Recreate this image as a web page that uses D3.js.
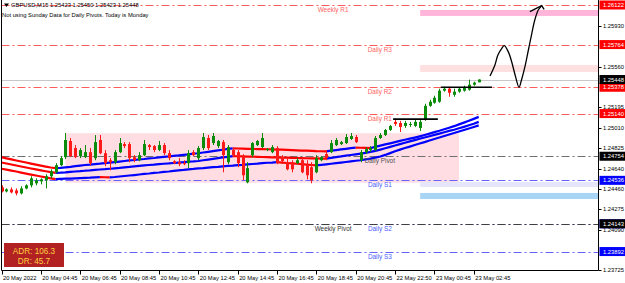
<!DOCTYPE html>
<html>
<head>
<meta charset="utf-8">
<script src="https://cdn.jsdelivr.net/npm/d3@7"></script>
<style>
  body { margin: 0; background: #fff; }
  svg { display: block; }
  text { font-family: "Liberation Sans", Arial, sans-serif; }
</style>
</head>
<body>
<svg id="chart" width="625" height="283"></svg>
<script>
// GBPUSD M15 candles, bar 0 = 20 May 02:45
const openP = [
  1.24472, 1.24436, 1.24454, 1.24445, 1.24418, 1.24463, 1.24491, 1.24509, 1.24527, 1.24536,
  1.24573, 1.24609, 1.24673, 1.24746, 1.24892, 1.24828, 1.24755, 1.24746, 1.24791, 1.24737,
  1.24901, 1.24782, 1.24718, 1.24700, 1.24791, 1.24864, 1.24864, 1.24746, 1.24718, 1.24764,
  1.24855, 1.24846, 1.24810, 1.24855, 1.24782, 1.24709, 1.24700, 1.24691, 1.24691, 1.24791,
  1.24737, 1.24828, 1.24919, 1.24873, 1.24846, 1.24882, 1.24700, 1.24810, 1.24791, 1.24746,
  1.24518, 1.24764, 1.24855, 1.24837, 1.24810, 1.24791, 1.24828, 1.24746, 1.24700, 1.24700,
  1.24691, 1.24718, 1.24673, 1.24655, 1.24609, 1.24718, 1.24773, 1.24791, 1.24855, 1.24864,
  1.24873, 1.24910, 1.24928, 1.24718, 1.24791, 1.24810, 1.24810, 1.24919, 1.24946, 1.24992,
  1.25065, 1.25055, 1.25028, 1.25037, 1.25028, 1.25010, 1.25083, 1.25210, 1.25238, 1.25247,
  1.25347, 1.25365, 1.25310, 1.25338, 1.25347, 1.25356, 1.25401, 1.25423
];
const highP = [
  1.24491, 1.24463, 1.24472, 1.24463, 1.24482, 1.24500, 1.24573, 1.24554, 1.24554, 1.24591,
  1.24636, 1.24691, 1.24755, 1.24964, 1.24919, 1.24855, 1.24828, 1.24855, 1.24828, 1.24946,
  1.24946, 1.24810, 1.24737, 1.24810, 1.24919, 1.24882, 1.24882, 1.24764, 1.24791, 1.24901,
  1.24864, 1.24855, 1.24892, 1.24873, 1.24810, 1.24718, 1.24737, 1.24718, 1.24810, 1.24810,
  1.24846, 1.24964, 1.24946, 1.24964, 1.24901, 1.24901, 1.24855, 1.24828, 1.24810, 1.24773,
  1.24700, 1.24882, 1.24901, 1.24964, 1.24828, 1.24855, 1.24846, 1.24764, 1.24737, 1.24718,
  1.24737, 1.24737, 1.24718, 1.24700, 1.24764, 1.24755, 1.24810, 1.24901, 1.24919, 1.24892,
  1.24955, 1.24964, 1.24946, 1.24810, 1.24837, 1.24846, 1.24937, 1.24964, 1.25001, 1.25037,
  1.25092, 1.25074, 1.25074, 1.25065, 1.25083, 1.25083, 1.25229, 1.25265, 1.25301, 1.25365,
  1.25383, 1.25383, 1.25365, 1.25374, 1.25392, 1.25447, 1.25429, 1.25450
];
const lowP = [
  1.24427, 1.24427, 1.24418, 1.24400, 1.24409, 1.24454, 1.24472, 1.24491, 1.24500, 1.24463,
  1.24554, 1.24600, 1.24664, 1.24728, 1.24746, 1.24737, 1.24737, 1.24737, 1.24673, 1.24718,
  1.24773, 1.24664, 1.24627, 1.24682, 1.24782, 1.24828, 1.24700, 1.24700, 1.24709, 1.24755,
  1.24810, 1.24791, 1.24800, 1.24764, 1.24718, 1.24682, 1.24664, 1.24673, 1.24646, 1.24755,
  1.24718, 1.24810, 1.24810, 1.24855, 1.24828, 1.24609, 1.24682, 1.24746, 1.24655, 1.24536,
  1.24509, 1.24746, 1.24846, 1.24828, 1.24800, 1.24782, 1.24682, 1.24700, 1.24627, 1.24609,
  1.24682, 1.24600, 1.24545, 1.24509, 1.24600, 1.24709, 1.24718, 1.24782, 1.24846, 1.24855,
  1.24864, 1.24901, 1.24873, 1.24700, 1.24773, 1.24791, 1.24800, 1.24910, 1.24937, 1.24983,
  1.25028, 1.24973, 1.25010, 1.25019, 1.25019, 1.24983, 1.25074, 1.25201, 1.25229, 1.25238,
  1.25338, 1.25292, 1.25292, 1.25328, 1.25338, 1.25347, 1.25392, 1.25423
];
const closeP = [
  1.24436, 1.24454, 1.24427, 1.24418, 1.24463, 1.24491, 1.24554, 1.24536, 1.24545, 1.24573,
  1.24618, 1.24673, 1.24737, 1.24901, 1.24755, 1.24746, 1.24810, 1.24791, 1.24691, 1.24882,
  1.24782, 1.24691, 1.24700, 1.24791, 1.24873, 1.24846, 1.24737, 1.24718, 1.24764, 1.24864,
  1.24837, 1.24810, 1.24855, 1.24782, 1.24737, 1.24691, 1.24682, 1.24682, 1.24782, 1.24764,
  1.24828, 1.24928, 1.24828, 1.24937, 1.24892, 1.24764, 1.24837, 1.24764, 1.24691, 1.24582,
  1.24646, 1.24873, 1.24892, 1.24919, 1.24819, 1.24837, 1.24691, 1.24709, 1.24636, 1.24636,
  1.24718, 1.24609, 1.24582, 1.24536, 1.24737, 1.24746, 1.24737, 1.24873, 1.24901, 1.24882,
  1.24928, 1.24937, 1.24882, 1.24791, 1.24819, 1.24828, 1.24919, 1.24946, 1.24992, 1.25028,
  1.25046, 1.25019, 1.25055, 1.25046, 1.25065, 1.25065, 1.25210, 1.25247, 1.25283, 1.25347,
  1.25365, 1.25328, 1.25338, 1.25365, 1.25374, 1.25401, 1.25420, 1.25448
];

// three-line moving average band
const maUpper = [
  1.24746, 1.24735, 1.24725, 1.24715, 1.24706, 1.24697, 1.24687, 1.24678, 1.24669, 1.24660,
  1.24652, 1.24646, 1.24649, 1.24654, 1.24658, 1.24664, 1.24669, 1.24675, 1.24678, 1.24683,
  1.24687, 1.24692, 1.24697, 1.24701, 1.24706, 1.24711, 1.24716, 1.24720, 1.24725, 1.24729,
  1.24734, 1.24738, 1.24744, 1.24749, 1.24753, 1.24758, 1.24762, 1.24767, 1.24771, 1.24777,
  1.24781, 1.24788, 1.24794, 1.24800, 1.24807, 1.24813, 1.24820, 1.24825, 1.24824, 1.24823,
  1.24821, 1.24820, 1.24819, 1.24818, 1.24817, 1.24816, 1.24814, 1.24813, 1.24811, 1.24809,
  1.24807, 1.24805, 1.24804, 1.24802, 1.24800, 1.24799, 1.24798, 1.24804, 1.24810, 1.24816,
  1.24821, 1.24827, 1.24832, 1.24831, 1.24830, 1.24828, 1.24839, 1.24850, 1.24861, 1.24871,
  1.24882, 1.24893, 1.24903, 1.24913, 1.24923, 1.24934, 1.24946, 1.24959, 1.24972, 1.24984,
  1.24998, 1.25012, 1.25026, 1.25042, 1.25058, 1.25075, 1.25092, 1.25110
];
const maMid = [
  1.24697, 1.24688, 1.24679, 1.24670, 1.24661, 1.24652, 1.24643, 1.24635, 1.24626, 1.24618,
  1.24610, 1.24603, 1.24605, 1.24608, 1.24612, 1.24616, 1.24619, 1.24623, 1.24626, 1.24630,
  1.24634, 1.24637, 1.24641, 1.24645, 1.24648, 1.24653, 1.24657, 1.24662, 1.24667, 1.24671,
  1.24675, 1.24678, 1.24682, 1.24686, 1.24689, 1.24693, 1.24697, 1.24700, 1.24704, 1.24707,
  1.24711, 1.24718, 1.24724, 1.24730, 1.24737, 1.24743, 1.24749, 1.24755, 1.24754, 1.24753,
  1.24751, 1.24750, 1.24749, 1.24747, 1.24746, 1.24744, 1.24743, 1.24742, 1.24741, 1.24740,
  1.24738, 1.24737, 1.24736, 1.24735, 1.24734, 1.24733, 1.24732, 1.24739, 1.24746, 1.24752,
  1.24759, 1.24765, 1.24771, 1.24778, 1.24785, 1.24793, 1.24803, 1.24814, 1.24826, 1.24839,
  1.24851, 1.24864, 1.24876, 1.24888, 1.24900, 1.24912, 1.24923, 1.24935, 1.24947, 1.24959,
  1.24971, 1.24983, 1.24994, 1.25007, 1.25020, 1.25034, 1.25048, 1.25065
];
const maLower = [
  1.24641, 1.24633, 1.24624, 1.24616, 1.24606, 1.24597, 1.24588, 1.24580, 1.24571, 1.24563,
  1.24554, 1.24547, 1.24549, 1.24551, 1.24552, 1.24554, 1.24556, 1.24558, 1.24560, 1.24563,
  1.24565, 1.24564, 1.24563, 1.24566, 1.24571, 1.24575, 1.24580, 1.24584, 1.24589, 1.24594,
  1.24598, 1.24603, 1.24607, 1.24612, 1.24616, 1.24621, 1.24626, 1.24630, 1.24635, 1.24639,
  1.24644, 1.24647, 1.24651, 1.24655, 1.24658, 1.24662, 1.24666, 1.24669, 1.24673, 1.24676,
  1.24680, 1.24684, 1.24687, 1.24691, 1.24695, 1.24697, 1.24700, 1.24696, 1.24693, 1.24689,
  1.24686, 1.24682, 1.24678, 1.24675, 1.24672, 1.24676, 1.24681, 1.24686, 1.24691, 1.24697,
  1.24702, 1.24707, 1.24713, 1.24718, 1.24725, 1.24732, 1.24741, 1.24752, 1.24766, 1.24782,
  1.24799, 1.24814, 1.24828, 1.24841, 1.24855, 1.24869, 1.24882, 1.24896, 1.24910, 1.24923,
  1.24937, 1.24951, 1.24964, 1.24978, 1.24992, 1.25005, 1.25019, 1.25033
];

// time axis: a label every 8 bars
const timeTickBars = [0, 8, 16, 24, 32, 40, 48, 56, 64, 72, 80, 88, 96];
const timeTickLabels = ["20 May 2022", "20 May 04:45", "20 May 06:45", "20 May 08:45", "20 May 10:45",
  "20 May 12:45", "20 May 14:45", "20 May 16:45", "20 May 18:45", "20 May 20:45",
  "22 May 22:50", "23 May 00:45", "23 May 02:45"];

// price axis grid labels (those hidden under coloured tags are left out)
const priceTicks = [1.23725, 1.24090, 1.24275, 1.24460, 1.24640, 1.24825, 1.25010,
  1.25195, 1.25560, 1.25930];

// pivot levels
const levelNames = ["Daily S2", "Weekly R1", "Daily R3", "Daily R2", "Daily R1", "Daily Pivot", "Daily S1", "Weekly Pivot", "Daily S3"];
const levelValues = [1.24143, 1.26122, 1.25764, 1.25378, 1.25140, 1.24754, 1.24536, 1.24143, 1.23892];
const levelKinds = ["support", "resistance", "resistance", "resistance", "resistance", "pivot", "support", "weekly", "support"];

const lastPrice = 1.25448;
const header = "GBPUSD,M15  1.25423 1.25450 1.25423 1.25448";
const subHeader = "Not using Sunday Data for Daily Pivots.  Today is Monday";
const adrText = ["ADR: 106.3", "DR: 45.7"];

// zones drawn on the chart: [from bar, to bar, low, high]
const zoneFrom = [13.0, 85.1, 85.1, 85.1, 85.1];
const zoneTo = [93.0, 125, 125, 125, 125];
const zoneLow = [1.24515, 1.26023, 1.25516, 1.24476, 1.24367];
const zoneHigh = [1.24962, 1.26077, 1.25579, 1.24521, 1.24422];
const zoneColors = ["#ffdde3", "#ffb5da", "#ffe0e0", "#e6e6fa", "#a8d4f5"];

// hand drawn trend lines and arrow
const markFrom = [79.6, 89.3];
const markTo = [88.7, 99.7];
const markPrice = [1.25090, 1.25378];
const arrowBars = [99.3, 100.3, 100.9, 101.7, 102.2, 103.0, 103.7, 104.4, 105.2, 105.7, 106.4, 107.1, 107.8, 108.4, 109.1, 109.8];
const arrowPrices = [1.25480, 1.25579, 1.25670, 1.25730, 1.25754, 1.25700, 1.25609, 1.25489, 1.25378, 1.25444, 1.25564, 1.25715, 1.25866, 1.25986, 1.26077, 1.26116];
const headBars = [107.4, 109.8, 110.3];
const headPrices = [1.26062, 1.26116, 1.26083];

const width = 625, height = 283;
const plot = { left: 1.5, right: 598.5, top: 0, bottom: 270.5 };

const svg = d3.select('#chart');

const x = d3.scaleLinear().domain([0, 97]).range([1.5, 478.7]);
const y = d3.scaleLinear().domain([1.23725, 1.26122]).range([270, 5]);

svg.append('defs').append('clipPath').attr('id', 'plotClip')
  .append('rect')
  .attr('x', plot.left).attr('y', plot.top)
  .attr('width', plot.right - plot.left).attr('height', plot.bottom - plot.top);

const g = svg.append('g').attr('clip-path', 'url(#plotClip)');

// zones
g.append('g').selectAll('rect')
  .data(zoneColors)
  .join('rect')
  .attr('x', (d, i) => x(zoneFrom[i]))
  .attr('width', (d, i) => x(zoneTo[i]) - x(zoneFrom[i]))
  .attr('y', (d, i) => y(zoneHigh[i]))
  .attr('height', (d, i) => y(zoneLow[i]) - y(zoneHigh[i]))
  .attr('fill', d => d);

// pivot levels
const lineColor = { resistance: '#ff5c5c', pivot: '#707070', support: '#6464ff', weekly: '#404040' };
const textColor = { resistance: '#ff6262', pivot: '#505050', support: '#4a5cff', weekly: '#333333' };
const boxColor = { resistance: '#ff0000', pivot: '#000000', support: '#0000ff', weekly: '#000000' };
const crisp = v => Math.round(v) + 0.5;

g.append('g').selectAll('line')
  .data(levelValues)
  .join('line')
  .attr('x1', plot.left).attr('x2', plot.right)
  .attr('y1', d => crisp(y(d))).attr('y2', d => crisp(y(d)))
  .attr('stroke', (d, i) => lineColor[levelKinds[i]])
  .attr('stroke-width', 1)
  .attr('stroke-dasharray', '8,3,2,3');

// bid line
g.append('line')
  .attr('x1', plot.left).attr('x2', plot.right)
  .attr('y1', crisp(y(lastPrice))).attr('y2', crisp(y(lastPrice)))
  .attr('stroke', '#c8c8c8');

// moving average lines, red while falling, blue while rising
const red = '#ff0000', blue = '#0000ff';
function trendLine(values) {
  const segs = [];
  let seg = null;
  for (let i = 1; i < values.length; i++) {
    const col = values[i] >= values[i - 1] ? blue : red;
    if (!seg || seg.col !== col) { seg = { col, pts: [i - 1] }; segs.push(seg); }
    seg.pts.push(i);
  }
  const line = d3.line().x(i => x(i)).y(i => y(values[i]));
  g.append('g').selectAll('path')
    .data(segs)
    .join('path')
    .attr('d', s => line(s.pts))
    .attr('fill', 'none')
    .attr('stroke', s => s.col)
    .attr('stroke-width', 2.2)
    .attr('stroke-linejoin', 'round');
}
trendLine(maLower);
trendLine(maMid);
trendLine(maUpper);

// candles
const bars = d3.range(openP.length);
const up = '#0b8c0b', down = '#ff1a1a';
const candles = g.append('g');
candles.selectAll('line')
  .data(bars)
  .join('line')
  .attr('x1', i => crisp(x(i))).attr('x2', i => crisp(x(i)))
  .attr('y1', i => y(highP[i])).attr('y2', i => y(lowP[i]))
  .attr('stroke', i => closeP[i] >= openP[i] ? up : down);
candles.selectAll('rect')
  .data(bars)
  .join('rect')
  .attr('x', i => Math.round(x(i)) - 1)
  .attr('width', 3)
  .attr('y', i => y(Math.max(openP[i], closeP[i])))
  .attr('height', i => Math.max(1, Math.abs(y(openP[i]) - y(closeP[i]))))
  .attr('fill', i => closeP[i] >= openP[i] ? up : down);

// drawn horizontal marks
g.append('g').selectAll('line')
  .data(markPrice)
  .join('line')
  .attr('x1', (d, i) => x(markFrom[i])).attr('x2', (d, i) => x(markTo[i]))
  .attr('y1', d => y(d)).attr('y2', d => y(d))
  .attr('stroke', '#000').attr('stroke-width', 1.6);

// drawn arrow
const arrowLine = d3.line().curve(d3.curveCatmullRom.alpha(0.5));
g.append('path')
  .attr('d', arrowLine(arrowBars.map((b, i) => [x(b), y(arrowPrices[i])])))
  .attr('fill', 'none').attr('stroke', '#000').attr('stroke-width', 1.3);
g.append('path')
  .attr('d', d3.line()(headBars.map((b, i) => [x(b), y(headPrices[i])])))
  .attr('fill', 'none').attr('stroke', '#000').attr('stroke-width', 1.3);

// level labels on the chart
const dailyLabelBar = 76.9, weeklyLabelBar = 67.4;
svg.append('g').selectAll('text')
  .data(levelNames)
  .join('text')
  .attr('x', (d, i) => x(d.startsWith('Weekly') ? weeklyLabelBar : dailyLabelBar))
  .attr('y', (d, i) => y(levelValues[i]) + 7)
  .attr('text-anchor', 'middle')
  .attr('font-size', 6.4)
  .attr('fill', (d, i) => textColor[levelKinds[i]])
  .text(d => d);

// frame
const frame = svg.append('g').attr('stroke', '#000').attr('stroke-width', 1);
frame.append('line').attr('x1', plot.left).attr('x2', plot.left).attr('y1', 0).attr('y2', plot.bottom);
frame.append('line').attr('x1', plot.right).attr('x2', plot.right).attr('y1', 0).attr('y2', plot.bottom);
frame.append('line').attr('x1', plot.left).attr('x2', plot.right).attr('y1', plot.bottom).attr('y2', plot.bottom);

// price axis
const yAxis = svg.append('g');
yAxis.selectAll('line')
  .data(priceTicks)
  .join('line')
  .attr('x1', plot.right).attr('x2', plot.right + 3)
  .attr('y1', d => crisp(y(d))).attr('y2', d => crisp(y(d)))
  .attr('stroke', '#000');
yAxis.selectAll('text')
  .data(priceTicks)
  .join('text')
  .attr('x', plot.right + 4.5)
  .attr('y', d => y(d) + 2)
  .attr('font-size', 5.8)
  .attr('fill', '#000')
  .text(d => d3.format('.5f')(d));

// coloured price labels
const tags = levelValues.map((v, i) => ({ v, col: boxColor[levelKinds[i]] }));
tags.push({ v: lastPrice, col: '#000000' });
const tagG = svg.append('g').selectAll('g')
  .data(tags)
  .join('g');
tagG.append('rect')
  .attr('x', plot.right + 1)
  .attr('y', d => y(d.v) - 4.5)
  .attr('width', width - plot.right - 1)
  .attr('height', 9)
  .attr('fill', d => d.col);
tagG.append('text')
  .attr('x', plot.right + 4.5)
  .attr('y', d => y(d.v) + 2)
  .attr('font-size', 5.8)
  .attr('fill', '#fff')
  .text(d => d3.format('.5f')(d.v));

// time axis
const xAxis = svg.append('g');
xAxis.selectAll('line')
  .data(timeTickBars)
  .join('line')
  .attr('x1', d => crisp(x(d))).attr('x2', d => crisp(x(d)))
  .attr('y1', plot.bottom).attr('y2', plot.bottom + 4)
  .attr('stroke', '#000');
xAxis.selectAll('text')
  .data(timeTickLabels)
  .join('text')
  .attr('x', (d, i) => x(timeTickBars[i]) + 1.5)
  .attr('y', 280)
  .attr('font-size', 5.8)
  .attr('fill', '#000')
  .text(d => d);

// header
svg.append('path')
  .attr('d', 'M4,3.5 L9,3.5 L6.5,7 Z')
  .attr('fill', '#000');
svg.append('text').attr('x', 11).attr('y', 7.2)
  .attr('font-size', 5.8).attr('fill', '#000').text(header);
svg.append('text').attr('x', 2).attr('y', 16.5)
  .attr('font-size', 5.8).attr('fill', '#000').text(subHeader);

// ADR box
const adr = svg.append('g');
adr.append('rect')
  .attr('x', plot.left + 2.5).attr('y', plot.bottom - 27.5)
  .attr('width', 60).attr('height', 24)
  .attr('fill', '#b22222');
adr.selectAll('text')
  .data(adrText)
  .join('text')
  .attr('x', plot.left + 32.5)
  .attr('y', (d, i) => plot.bottom - 17 + i * 10)
  .attr('text-anchor', 'middle')
  .attr('font-family', '"DejaVu Serif", "Liberation Serif", serif')
  .attr('font-size', 8.2)
  .attr('fill', '#ffcf40')
  .text(d => d);
</script>
</body>
</html>
